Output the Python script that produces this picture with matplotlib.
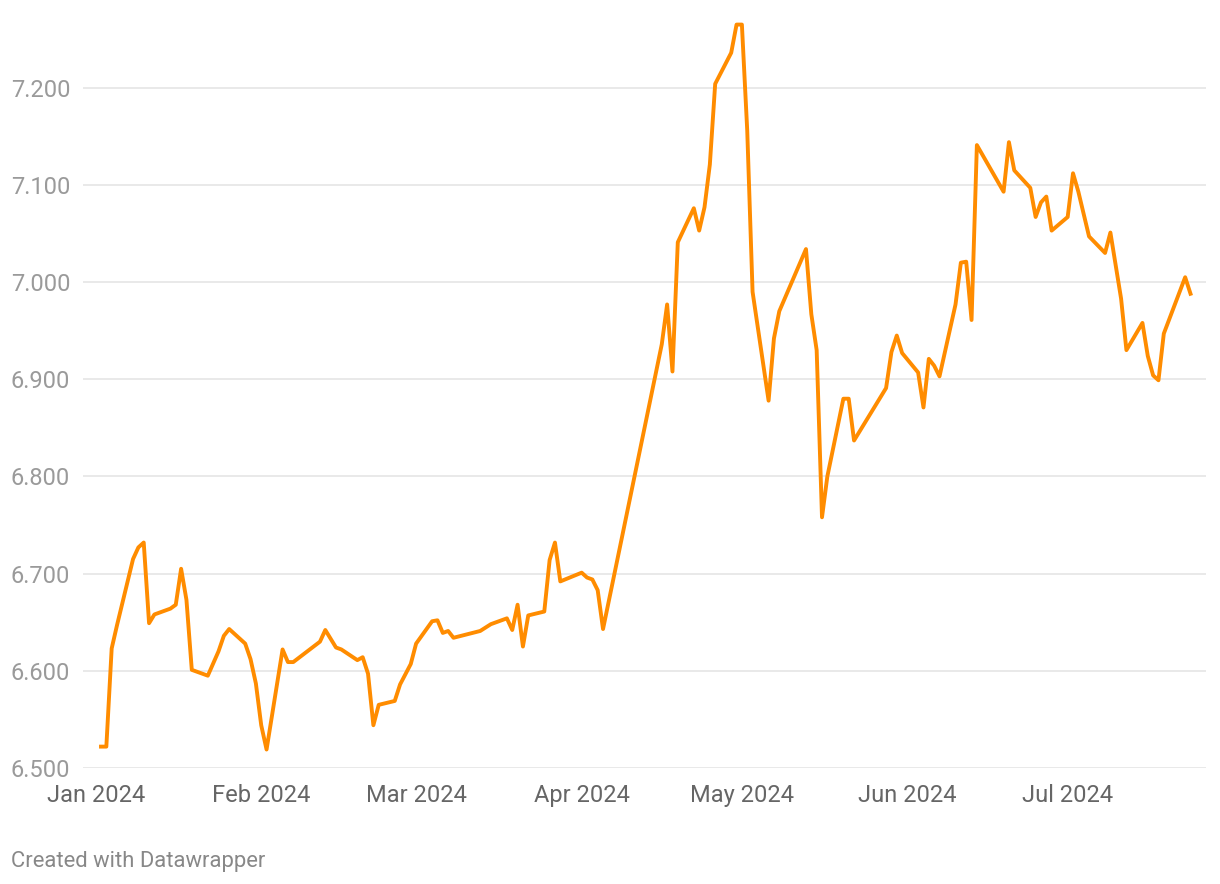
import numpy as np
import pandas as pd
import matplotlib
matplotlib.use("Agg")
import matplotlib.pyplot as plt
import matplotlib.dates as mdates

plt.rcParams['font.family'] = ['Roboto', 'DejaVu Sans']

# data (business days, 2024)
dates = [
    "2024-01-02", "2024-01-03", "2024-01-04", "2024-01-05", "2024-01-08", "2024-01-09",
    "2024-01-10", "2024-01-11", "2024-01-12", "2024-01-15", "2024-01-16", "2024-01-17",
    "2024-01-18", "2024-01-19", "2024-01-22", "2024-01-24", "2024-01-25", "2024-01-26",
    "2024-01-29", "2024-01-30", "2024-01-31", "2024-02-01", "2024-02-02", "2024-02-05",
    "2024-02-06", "2024-02-07", "2024-02-12", "2024-02-13", "2024-02-15", "2024-02-16",
    "2024-02-19", "2024-02-20", "2024-02-21", "2024-02-22", "2024-02-23", "2024-02-26",
    "2024-02-27", "2024-02-29", "2024-03-01", "2024-03-04", "2024-03-05", "2024-03-06",
    "2024-03-07", "2024-03-08", "2024-03-13", "2024-03-15", "2024-03-18", "2024-03-19",
    "2024-03-20", "2024-03-21", "2024-03-22", "2024-03-25", "2024-03-26", "2024-03-27",
    "2024-03-28", "2024-04-01", "2024-04-02", "2024-04-03", "2024-04-04", "2024-04-05",
    "2024-04-16", "2024-04-17", "2024-04-18", "2024-04-19", "2024-04-22", "2024-04-23",
    "2024-04-24", "2024-04-25", "2024-04-26", "2024-04-29", "2024-04-30", "2024-05-01",
    "2024-05-02", "2024-05-03", "2024-05-06", "2024-05-07", "2024-05-08", "2024-05-13",
    "2024-05-14", "2024-05-15", "2024-05-16", "2024-05-17", "2024-05-20", "2024-05-21",
    "2024-05-22", "2024-05-28", "2024-05-29", "2024-05-30", "2024-05-31", "2024-06-03",
    "2024-06-04", "2024-06-05", "2024-06-06", "2024-06-07", "2024-06-10", "2024-06-11",
    "2024-06-12", "2024-06-13", "2024-06-14", "2024-06-19", "2024-06-20", "2024-06-21",
    "2024-06-24", "2024-06-25", "2024-06-26", "2024-06-27", "2024-06-28", "2024-07-01",
    "2024-07-02", "2024-07-03", "2024-07-05", "2024-07-08", "2024-07-09", "2024-07-11",
    "2024-07-12", "2024-07-15", "2024-07-16", "2024-07-17", "2024-07-18", "2024-07-19",
    "2024-07-23", "2024-07-24",
]
values = [
    6.522, 6.522, 6.623, 6.647, 6.715, 6.727,
    6.732, 6.649, 6.658, 6.664, 6.668, 6.705,
    6.673, 6.601, 6.595, 6.620, 6.636, 6.643,
    6.628, 6.612, 6.587, 6.544, 6.519, 6.622,
    6.609, 6.609, 6.630, 6.642, 6.624, 6.622,
    6.611, 6.614, 6.597, 6.544, 6.565, 6.569,
    6.586, 6.607, 6.628, 6.651, 6.652, 6.639,
    6.641, 6.634, 6.641, 6.648, 6.654, 6.642,
    6.668, 6.625, 6.657, 6.661, 6.714, 6.732,
    6.692, 6.701, 6.696, 6.694, 6.683, 6.643,
    6.936, 6.977, 6.908, 7.041, 7.076, 7.053,
    7.077, 7.121, 7.204, 7.236, 7.265, 7.265,
    7.156, 6.990, 6.878, 6.942, 6.970, 7.034,
    6.967, 6.930, 6.758, 6.800, 6.880, 6.880,
    6.837, 6.891, 6.928, 6.945, 6.927, 6.907,
    6.871, 6.921, 6.914, 6.903, 6.977, 7.020,
    7.021, 6.961, 7.141, 7.093, 7.144, 7.115,
    7.097, 7.067, 7.082, 7.088, 7.053, 7.067,
    7.112, 7.093, 7.047, 7.030, 7.051, 6.983,
    6.930, 6.958, 6.924, 6.904, 6.899, 6.947,
    7.005, 6.988,
]
y_ticks = [6.5, 6.6, 6.7, 6.8, 6.9, 7.0, 7.1, 7.2]
month_ticks = ["2024-01-01", "2024-02-01", "2024-03-01", "2024-04-01",
               "2024-05-01", "2024-06-01", "2024-07-01"]

x = pd.to_datetime(dates)

fig = plt.figure(figsize=(12.2, 8.84), dpi=100)
ax = fig.add_axes([83 / 1220, 116 / 884, (1206 - 83) / 1220, (768 - 10) / 884])

ax.plot(x, values, color='#ff8c00', lw=2.8, solid_joinstyle='round', zorder=3)

start = mdates.date2num(pd.Timestamp("2024-01-01"))
ax.set_xlim(start - 2.37, start + 207.9)
ax.set_ylim(6.5, 7.28)

ax.set_yticks(y_ticks)
ax.set_yticklabels([f"{v:.3f}" for v in y_ticks])
ax.set_xticks(pd.to_datetime(month_ticks))
ax.xaxis.set_major_formatter(mdates.DateFormatter("%b %Y"))

ax.grid(axis='y', color='#e3e3e3', lw=1.1, zorder=0)
ax.grid(axis='x', visible=False)
for s in ax.spines.values():
    s.set_visible(False)

ax.tick_params(axis='y', length=0, pad=52, labelsize=17, labelcolor='#9a9a9a')
ax.tick_params(axis='x', length=0, pad=11.5, labelsize=17, labelcolor='#666666')
for lab in ax.get_yticklabels():
    lab.set_horizontalalignment('left')

fig.text(11 / 1220, 1 - 861 / 884, "Created with Datawrapper", fontsize=15.8,
         color='#888888', va='center', ha='left')

fig.savefig("out.png", dpi=100, facecolor='white')
